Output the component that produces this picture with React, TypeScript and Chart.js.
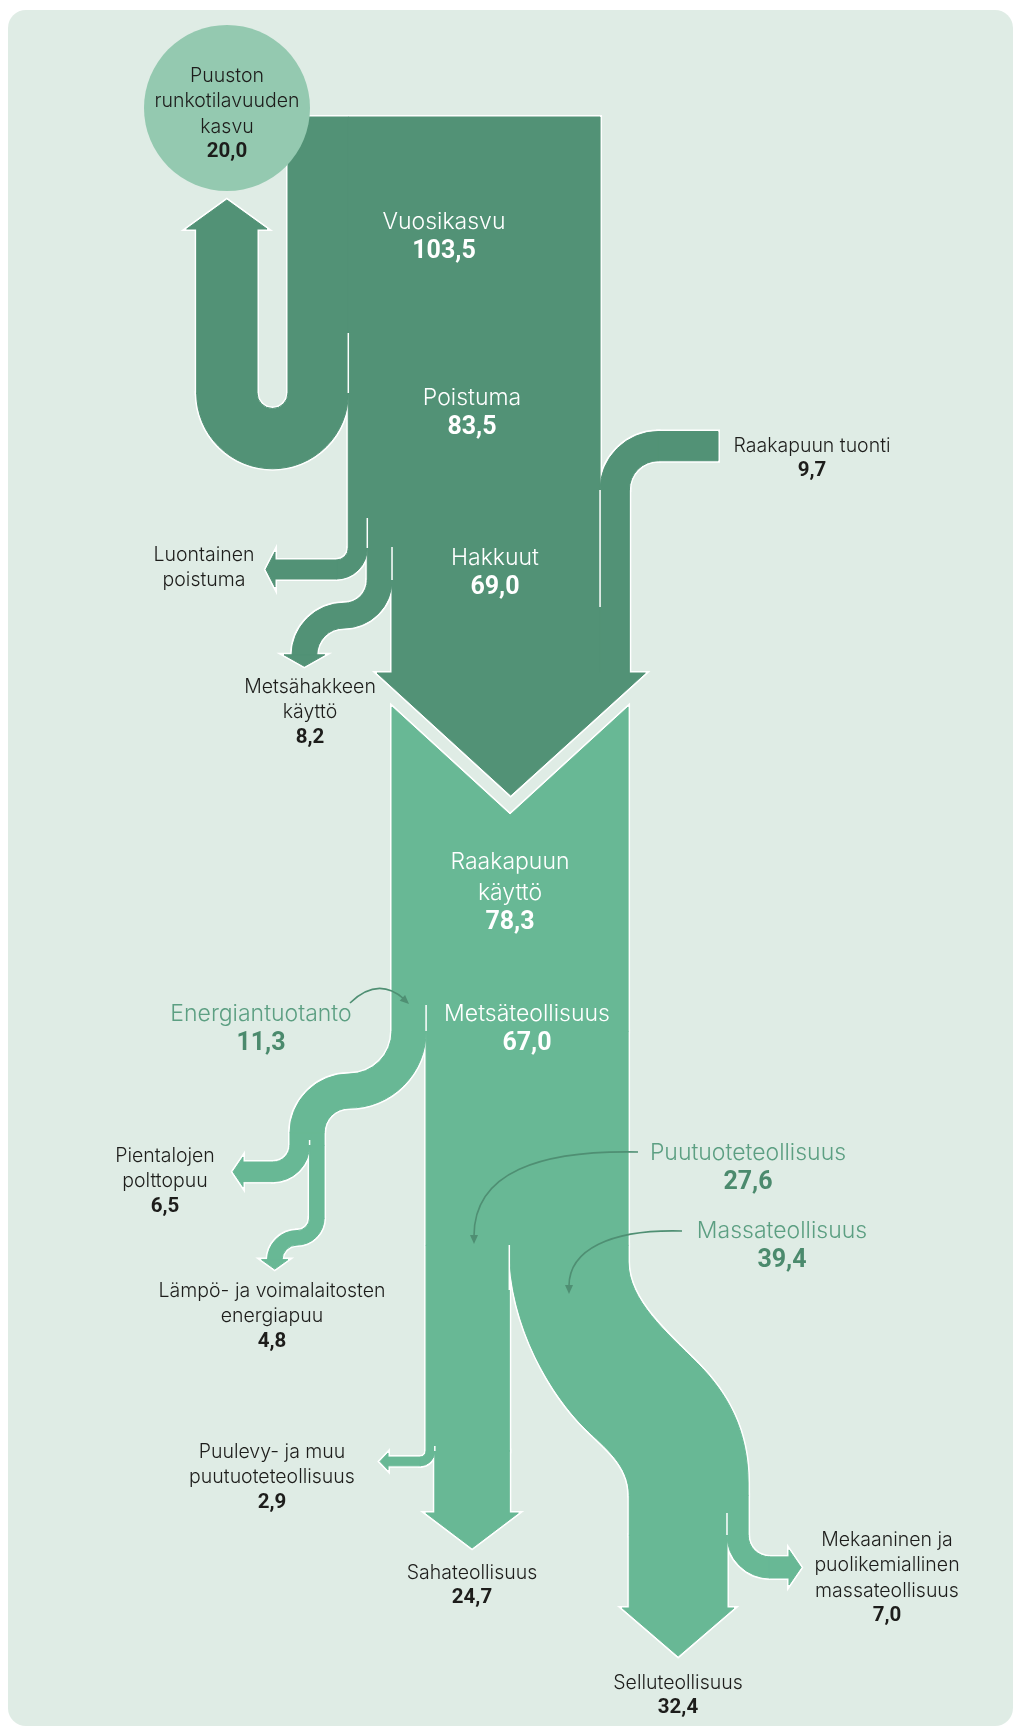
import React, { useEffect, useRef } from "react";
import { Chart, registerables } from "chart.js";

Chart.register(...registerables);

const W = 1014;
const H = 1727;
const UNIT = 3.015; // px per milj. m³

// ---------------- data (milj. m³) ----------------
const forestLabels = ["Vuosikasvu", "Poistuma", "Hakkuut"];
const forestValues = [103.5, 83.5, 69.0];
const outflowLabels = ["Puuston\nrunkotilavuuden\nkasvu", "Luontainen\npoistuma", "Metsähakkeen\nkäyttö"];
const outflowValues = [20.0, 6.3, 8.2];
const importLabels = ["Raakapuun tuonti"];
const importValues = [9.7];
const useLabels = ["Raakapuun\nkäyttö", "Energiantuotanto", "Metsäteollisuus"];
const useValues = [78.3, 11.3, 67.0];
const energyLabels = ["Pientalojen\npolttopuu", "Lämpö- ja voimalaitosten\nenergiapuu"];
const energyValues = [6.5, 4.8];
const industryLabels = ["Puutuoteteollisuus", "Massateollisuus"];
const industryValues = [27.6, 39.4];
const woodLabels = ["Puulevy- ja muu\npuutuoteteollisuus", "Sahateollisuus"];
const woodValues = [2.9, 24.7];
const pulpLabels = ["Selluteollisuus", "Mekaaninen ja\npuolikemiallinen\nmassateollisuus"];
const pulpValues = [32.4, 7.0];

// ---------------- colours ----------------
const BG = "#dfece5";
const DARK = "#529276";
const LIGHT = "#68b895";
const CIRCLE = "#94c9b0";
const INK = "#1d1d1b";
const GREEN_TXT = "#5c9f82";
const GREEN_VAL = "#4b8a6d";
const ARROW = "#4f8f73";
const FONT_LIGHT = 'Inter, Roboto, "Noto Sans", sans-serif';
const FONT_BOLD = 'Roboto, "Noto Sans", sans-serif';

const fmt = (v: number) => v.toFixed(1).replace(".", ",");

const flowPlugin = {
  id: "flows",
  beforeDatasetsDraw(chart: any) {
    const ctx: CanvasRenderingContext2D = chart.ctx;
    const xs = chart.scales.x;
    const ys = chart.scales.y;
    const X = (v: number) => xs.getPixelForValue(v);
    const Y = (v: number) => ys.getPixelForValue(v);
    const L = (d: number) => Math.abs(X(d) - X(0));
    const w = (v: number) => v * UNIT;

    const poly = (pts: number[][]) => {
      const p = new Path2D();
      pts.forEach(([x, y], i) => (i ? p.lineTo(X(x), Y(y)) : p.moveTo(X(x), Y(y))));
      p.closePath();
      return p;
    };
    const rect = (x0: number, y0: number, x1: number, y1: number) =>
      poly([[x0, y0], [x1, y0], [x1, y1], [x0, y1]]);
    const band = (cx: number, cy: number, r: number, R: number, a0: number, a1: number, ccw: boolean) => {
      const p = new Path2D();
      p.moveTo(X(cx + R * Math.cos(a0)), Y(cy + R * Math.sin(a0)));
      p.arc(X(cx), Y(cy), L(R), a0, a1, ccw);
      p.lineTo(X(cx + r * Math.cos(a1)), Y(cy + r * Math.sin(a1)));
      p.arc(X(cx), Y(cy), L(r), a1, a0, !ccw);
      p.closePath();
      return p;
    };

    // ---------- panel ----------
    ctx.save();
    ctx.fillStyle = "#ffffff";
    ctx.fillRect(0, 0, chart.width, chart.height);
    ctx.fillStyle = BG;
    ctx.beginPath();
    (ctx as any).roundRect(X(8), Y(10), L(1005), L(1716), 18);
    ctx.fill();

    // ---------- dark group (forest) ----------
    const dark: Path2D[] = [];
    const x0 = 288;
    const top = 117;
    const xa = x0 + w(outflowValues[0]);
    const xb = xa + w(outflowValues[1]);
    const xc = xb + w(outflowValues[2]);
    const xr = x0 + w(forestValues[0]);
    const xt = xr + w(importValues[0]);

    // kasvu U-turn up to circle
    const uY = 393, uRin = 15.5;
    const uCx = x0 - uRin;
    const uRout = uRin + w(outflowValues[0]);
    const upL = uCx - uRout, upR = uCx - uRin;
    dark.push(rect(x0, top, xa + 0.5, uY + 0.5));
    dark.push(band(uCx, uY, uRin, uRout, 0, Math.PI, false));
    dark.push(rect(upL, 229, upR, uY + 0.5));
    dark.push(poly([[upL - 10, 229], [upR + 10, 229], [(upL + upR) / 2, 200]]));

    // poistuma trunk
    dark.push(rect(xa, top, xr, 548.5));

    // luontainen poistuma
    const lY = 548, lr = 12;
    const lCx = xa - lr;
    const lR = lr + w(outflowValues[1]);
    dark.push(band(lCx, lY, lr, lR, 0, Math.PI / 2, false));
    dark.push(rect(275, lY + lr, lCx + 0.5, lY + lR));
    dark.push(poly([[275, lY + lr - 8], [275, lY + lR + 8], [266, lY + (lr + lR) / 2]]));

    // metsähake
    const mY = 580, mCx = 344;
    dark.push(rect(xb, 547, xc, mY + 0.5));
    const mr1 = xb - mCx, mR1 = xc - mCx;
    dark.push(band(mCx, mY, mr1, mR1, 0, Math.PI / 2, false));
    const mTop = mY + mr1;
    const mR2 = 52;
    const mCy2 = mTop + mR2;
    const mr2 = mR2 - w(outflowValues[2]);
    dark.push(band(mCx, mCy2, mr2, mR2, -Math.PI / 2, -Math.PI, true));
    const mL = mCx - mR2, mRt = mCx - mr2;
    dark.push(poly([[mL - 8, mCy2 - 0.5], [mRt + 8, mCy2 - 0.5], [(mL + mRt) / 2, mCy2 + 11]]));

    // hakkuut
    const aY = 673;
    dark.push(rect(xc, 547, xr + 0.3, aY + 0.5));

    // tuonti
    const tY = 490, tR = 58.5;
    const tCx = xr + tR;
    const tr = tR - w(importValues[0]);
    dark.push(rect(xr, tY - 0.5, xt, aY + 0.5));
    dark.push(band(tCx, tY, tr, tR, Math.PI, 1.5 * Math.PI, false));
    dark.push(rect(tCx - 0.5, tY - tR, 718, tY - tr));

    // big arrow head
    dark.push(poly([[xc - 15, aY], [xt + 16, aY], [(xc + xt) / 2, 795]]));

    // ---------- light group (use) ----------
    const light: Path2D[] = [];
    const lx0 = xc;
    const lx1 = lx0 + w(useValues[0]);
    const lTop = 707;
    const xe = lx0 + w(useValues[1]);
    const xp = xe + w(industryValues[0]);
    const xl = xe + w(woodValues[0]);
    const eY = 1031;
    light.push(poly([[lx0, lTop], [(lx0 + lx1) / 2, 815], [lx1, lTop], [lx1, eY + 0.5], [lx0, eY + 0.5]]));

    // energia S-curve
    const eCx = 349;
    const er1 = lx0 - eCx, eR1 = xe - eCx;
    light.push(band(eCx, eY, er1, eR1, 0, Math.PI / 2, false));
    const eTop = eY + er1;
    const eR2 = 59;
    const eCy2 = eTop + eR2;
    const er2 = eR2 - w(useValues[1]);
    light.push(band(eCx, eCy2, er2, eR2, -Math.PI / 2, -Math.PI, true));
    const ex0 = eCx - eR2, ex1 = eCx - er2;
    const exm = ex0 + w(energyValues[0]);
    const pY = 1145;
    light.push(rect(ex0, eCy2 - 0.5, ex1, pY + 0.5));

    // pientalojen polttopuu
    const pr = 17;
    const pCx = ex0 - pr;
    const pR = pr + w(energyValues[0]);
    light.push(band(pCx, pY, pr, pR, 0, Math.PI / 2, false));
    light.push(rect(243, pY + pr, pCx + 0.5, pY + pR));
    light.push(poly([[243, pY + pr - 5], [243, pY + pR + 5], [233, pY + (pr + pR) / 2]]));

    // lämpö- ja voimalaitokset
    const qY = 1218, qCx = 297;
    light.push(rect(exm, pY, ex1, qY + 0.5));
    const qr1 = exm - qCx, qR1 = ex1 - qCx;
    light.push(band(qCx, qY, qr1, qR1, 0, Math.PI / 2, false));
    const qTop = qY + qr1;
    const qR2 = 29.5;
    const qCy2 = qTop + qR2;
    const qr2 = qR2 - w(energyValues[1]);
    light.push(band(qCx, qCy2, qr2, qR2, -Math.PI / 2, -Math.PI, true));
    const qx0 = qCx - qR2, qx1 = qCx - qr2;
    light.push(poly([[qx0 - 6, qCy2 - 0.5], [qx1 + 6, qCy2 - 0.5], [(qx0 + qx1) / 2, qCy2 + 9]]));

    // metsäteollisuus trunk
    const sTop = 1245;
    light.push(rect(xe, eY, lx1, sTop + 0.5));
    const plY = 1451;
    light.push(rect(xe, sTop, xp, plY + 0.5));

    // massateollisuus S ribbon
    const DX = 120;
    const mx0 = xp, mx1 = lx1;
    const nx0 = xp + DX, nx1 = lx1 + DX;
    const sBot = 1495;
    {
      const p = new Path2D();
      p.moveTo(X(mx0), Y(sTop));
      p.lineTo(X(mx1), Y(sTop));
      p.lineTo(X(mx1), Y(1262));
      p.bezierCurveTo(X(mx1), Y(1300), X(mx1 + 39), Y(1333), X(mx1 + 69), Y(1363));
      p.bezierCurveTo(X(mx1 + 99), Y(1393), X(nx1), Y(1430), X(nx1), Y(1483));
      p.lineTo(X(nx1), Y(sBot + 0.5));
      p.lineTo(X(nx0), Y(sBot + 0.5));
      p.bezierCurveTo(X(nx0), Y(1465), X(mx0 + 95.7), Y(1448), X(mx0 + 75.7), Y(1428));
      p.bezierCurveTo(X(mx0 + 45.7), Y(1398), X(mx0), Y(1330), X(mx0), Y(sTop));
      p.closePath();
      light.push(p);
    }
    const kY = 1535;
    light.push(rect(nx0, sBot, nx1, kY + 0.5));
    const xs2 = nx0 + w(pulpValues[0]);
    // sellu
    light.push(rect(nx0, kY, xs2, 1608.5));
    light.push(poly([[nx0 - 7, 1608], [xs2 + 7, 1608], [(nx0 + xs2) / 2, 1656]]));
    // mekaaninen
    const kr = 21.9;
    const kCx = nx1 + kr;
    const kR = kr + w(pulpValues[1]);
    light.push(band(kCx, kY, kr, kR, Math.PI, Math.PI / 2, true));
    light.push(rect(kCx - 0.5, kY + kr, 789, kY + kR));
    light.push(poly([[789, kY + kr - 7], [789, kY + kR + 7], [801, kY + (kr + kR) / 2]]));
    // puulevy
    const plr = 6.1;
    const plCx = xe - plr;
    const plR = plr + w(woodValues[0]);
    light.push(band(plCx, plY, plr, plR, 0, Math.PI / 2, false));
    light.push(rect(388, plY + plr, plCx + 0.5, plY + plR));
    light.push(poly([[388, plY + plr - 4], [388, plY + plR + 4], [380, plY + (plr + plR) / 2]]));
    // saha
    light.push(rect(xl, plY - 0.5, xp, 1513.5));
    light.push(poly([[xl - 9, 1513], [xp + 9, 1513], [(xl + xp) / 2, 1548]]));

    // ---------- render: outline pass, then fill pass ----------
    ctx.lineJoin = "miter";
    ctx.miterLimit = 10;
    ctx.strokeStyle = "#ffffff";
    ctx.lineWidth = 4;
    [...dark, ...light].forEach((p) => ctx.stroke(p));
    const fillGroup = (arr: Path2D[], col: string) => {
      ctx.fillStyle = col;
      ctx.strokeStyle = col;
      ctx.lineWidth = 1;
      arr.forEach((p) => {
        ctx.fill(p);
        ctx.stroke(p);
      });
    };
    fillGroup(dark, DARK);
    fillGroup(light, LIGHT);

    // split lines
    ctx.strokeStyle = "#ffffff";
    ctx.lineWidth = 1.5;
    ctx.lineCap = "butt";
    const vline = (x: number, y0: number, y1: number) => {
      ctx.beginPath();
      ctx.moveTo(X(x), Y(y0));
      ctx.lineTo(X(x), Y(y1));
      ctx.stroke();
    };
    vline(xa, 333, uY);
    vline(xb, 518, lY);
    vline(xc, 547, mY);
    vline(xr, tY, 607);
    vline(xe, 1005, eY);
    vline(exm, 1140, pY);
    vline(xp, sTop, 1290);
    vline(xl, 1446, plY);
    vline(xs2, 1513, kY);

    // circle
    ctx.fillStyle = CIRCLE;
    ctx.beginPath();
    ctx.arc(X(227), Y(108), L(83), 0, Math.PI * 2);
    ctx.fill();

    // ---------- thin label arrows ----------
    ctx.strokeStyle = ARROW;
    ctx.fillStyle = ARROW;
    ctx.lineWidth = 1.6;
    const head = (tx: number, ty: number, dx: number, dy: number) => {
      const n = Math.hypot(dx, dy);
      const ux = dx / n, uy = dy / n;
      const bx = tx - ux * 9, by = ty - uy * 9;
      ctx.beginPath();
      ctx.moveTo(X(tx), Y(ty));
      ctx.lineTo(X(bx - uy * 4), Y(by + ux * 4));
      ctx.lineTo(X(bx + uy * 4), Y(by - ux * 4));
      ctx.closePath();
      ctx.fill();
    };
    // Energiantuotanto
    ctx.beginPath();
    ctx.moveTo(X(350), Y(1003));
    ctx.quadraticCurveTo(X(378), Y(976), X(404), Y(999));
    ctx.stroke();
    head(409, 1004, 26, 24);
    // Puutuoteteollisuus
    ctx.beginPath();
    ctx.moveTo(X(638), Y(1152));
    ctx.bezierCurveTo(X(540), Y(1150), X(474), Y(1172), X(474), Y(1236));
    ctx.stroke();
    head(474, 1244, 0, 1);
    // Massateollisuus
    ctx.beginPath();
    ctx.moveTo(X(682), Y(1231));
    ctx.bezierCurveTo(X(610), Y(1229), X(569), Y(1250), X(569), Y(1286));
    ctx.stroke();
    head(569, 1294, 0, 1);

    // ---------- text ----------
    ctx.textAlign = "center";
    ctx.textBaseline = "middle";
    const txt = (s: string, cx: number, cy: number, font: string, col: string) => {
      ctx.font = font;
      ctx.fillStyle = col;
      ctx.fillText(s, X(cx), Y(cy));
    };
    const block = (label: string, value: number | null, cx: number, cy: number, kind: "ink" | "white" | "green") => {
      const lines = label.split("\n");
      const size = kind === "ink" ? 19.5 : 23;
      const lh = kind === "ink" ? 25.5 : 31;
      const col = kind === "ink" ? INK : kind === "white" ? "#ffffff" : GREEN_TXT;
      const vcol = kind === "ink" ? INK : kind === "white" ? "#ffffff" : GREEN_VAL;
      const vsize = kind === "ink" ? 20.5 : 25;
      const vgap = kind === "ink" ? 25 : 30;
      lines.forEach((s, i) => txt(s, cx, cy + i * lh, `300 ${size}px ${FONT_LIGHT}`, col));
      if (value !== null) txt(fmt(value), cx, cy + (lines.length - 1) * lh + vgap, `700 ${vsize}px ${FONT_BOLD}`, vcol);
    };

    block(outflowLabels[0], outflowValues[0], 227, 76, "ink");
    block(forestLabels[0], forestValues[0], 444, 222, "white");
    block(forestLabels[1], forestValues[1], 472, 398, "white");
    block(forestLabels[2], forestValues[2], 495, 558, "white");
    block(importLabels[0], importValues[0], 812, 446, "ink");
    block(outflowLabels[1], null, 204, 555, "ink");
    block(outflowLabels[2], outflowValues[2], 310, 687, "ink");
    block(useLabels[0], useValues[0], 510, 862, "white");
    block(useLabels[1], useValues[1], 261, 1014, "green");
    block(useLabels[2], useValues[2], 527, 1014, "white");
    block(energyLabels[0], energyValues[0], 165, 1156, "ink");
    block(energyLabels[1], energyValues[1], 272, 1291, "ink");
    block(industryLabels[0], industryValues[0], 748, 1153, "green");
    block(industryLabels[1], industryValues[1], 782, 1231, "green");
    block(woodLabels[0], woodValues[0], 272, 1452, "ink");
    block(woodLabels[1], woodValues[1], 472, 1573, "ink");
    block(pulpLabels[1], pulpValues[1], 887, 1540, "ink");
    block(pulpLabels[0], pulpValues[0], 678, 1683, "ink");

    ctx.restore();
  },
};

export default function App() {
  const ref = useRef<HTMLCanvasElement | null>(null);
  useEffect(() => {
    if (!ref.current) return;
    const chart = new Chart(ref.current, {
      type: "scatter",
      data: { datasets: [{ data: [], pointRadius: 0 }] },
      options: {
        animation: false,
        responsive: false,
        maintainAspectRatio: false,
        devicePixelRatio: 1,
        events: [],
        layout: { padding: 0 },
        plugins: { legend: { display: false }, tooltip: { enabled: false } },
        scales: {
          x: { type: "linear", min: 0, max: W, display: false },
          y: { type: "linear", min: 0, max: H, reverse: true, display: false },
        },
      },
      plugins: [flowPlugin],
    } as any);
    return () => chart.destroy();
  }, []);
  return (
    <canvas
      ref={ref}
      width={W}
      height={H}
      style={{ position: "absolute", left: 0, top: 0, display: "block" }}
    />
  );
}
